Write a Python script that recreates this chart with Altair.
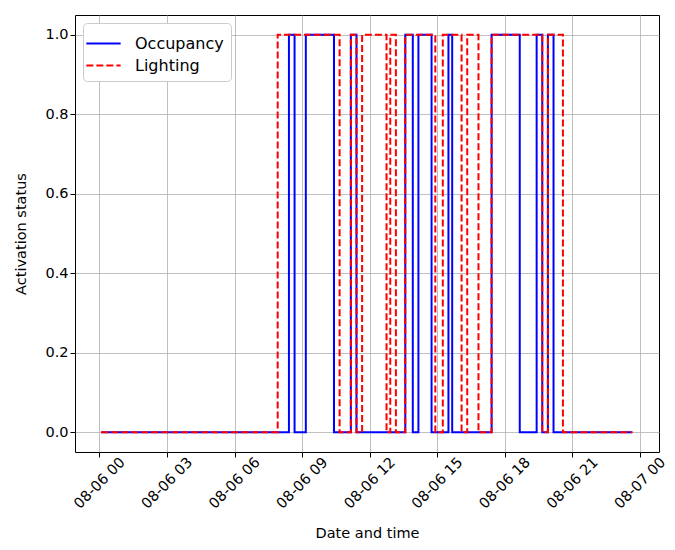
import altair as alt
import pandas as pd

# change points (time of day on 2021-08-06) and the value that starts there
occ_times = ["00:05", "08:25", "08:40", "09:10", "10:25", "11:10", "11:25", "13:35",
             "13:55", "14:10", "14:45", "15:30", "15:40", "17:25", "18:40", "19:25",
             "19:40", "19:55", "20:10", "23:40"]
occ_vals = [0, 1, 0, 1, 0, 1, 0, 1, 0, 1, 0, 1, 0, 1, 0, 1, 0, 1, 0, 0]

light_times = ["00:05", "07:55", "10:40", "11:10", "11:25", "11:40", "12:45", "12:55",
               "13:10", "13:35", "14:55", "15:15", "16:05", "16:20", "16:50", "17:25",
               "19:40", "19:55", "20:35", "23:40"]
light_vals = [0, 1, 0, 1, 0, 1, 0, 1, 0, 1, 0, 1, 0, 1, 0, 1, 0, 1, 0, 0]

series_names = ["Occupancy", "Lighting"]
series_colors = ["#0000ff", "#ff0000"]
tick_hours = [0, 3, 6, 9, 12, 15, 18, 21, 24]
y_ticks = [0.0, 0.2, 0.4, 0.6, 0.8, 1.0]

rows = []
for name, times, vals in [("Occupancy", occ_times, occ_vals), ("Lighting", light_times, light_vals)]:
    for t, v in zip(times, vals):
        rows.append({"t": f"2021-08-06T{t}:00Z", "v": v, "s": name})
df = pd.DataFrame(rows)


def dt(day, h, m=0):
    return alt.DateTime(year=2021, month=8, date=day, hours=h, minutes=m, utc=True)


tick_vals = [dt(6 + hh // 24, hh % 24) for hh in tick_hours]

FONT = "DejaVu Sans"

chart = alt.Chart(df).mark_line(interpolate="step-after", strokeWidth=2).encode(
    x=alt.X("t:T",
            scale=alt.Scale(type="utc", domain=[dt(5, 22, 55), dt(7, 0, 51)]),
            axis=alt.Axis(values=tick_vals,
                          labelExpr="utcFormat(datum.value, '%m-%d %H')",
                          labelAngle=-45, labelAlign="center", labelBaseline="middle",
                          labelPadding=26, title="Date and time", titlePadding=16)),
    y=alt.Y("v:Q",
            scale=alt.Scale(domain=[-0.05, 1.05], nice=False, zero=False),
            axis=alt.Axis(values=y_ticks, format=".1f", title="Activation status",
                          titlePadding=16)),
    color=alt.Color("s:N", scale=alt.Scale(domain=series_names, range=series_colors),
                    sort=series_names,
                    legend=alt.Legend(title=None, orient="top-left", offset=8,
                                      symbolType="M-1.4,0H1.4", symbolSize=600,
                                      symbolStrokeWidth=2, labelFontSize=16,
                                      labelFont=FONT, rowPadding=0, padding=7,
                                      labelOffset=18,
                                      fillColor="white", strokeColor="#cccccc",
                                      cornerRadius=4)),
    strokeDash=alt.StrokeDash("s:N", scale=alt.Scale(domain=series_names, range=[[1, 0], [7, 3]]),
                              sort=series_names, legend=None),
).properties(
    width=584, height=437,
    autosize=alt.AutoSizeParams(type="none"),
    padding={"left": 67, "top": 7, "right": 8, "bottom": 95},
).configure_view(
    stroke="black", strokeWidth=1
).configure_axis(
    grid=True, gridColor="#b0b0b0", gridWidth=0.8, domain=False,
    tickColor="black", tickSize=5, labelColor="black", labelFont=FONT,
    labelFontSize=14.5, titleFont=FONT, titleFontSize=14.5, titleFontWeight="normal",
    titleColor="black"
)

chart.save("out.html", embed_options={"renderer": "svg", "actions": False})
